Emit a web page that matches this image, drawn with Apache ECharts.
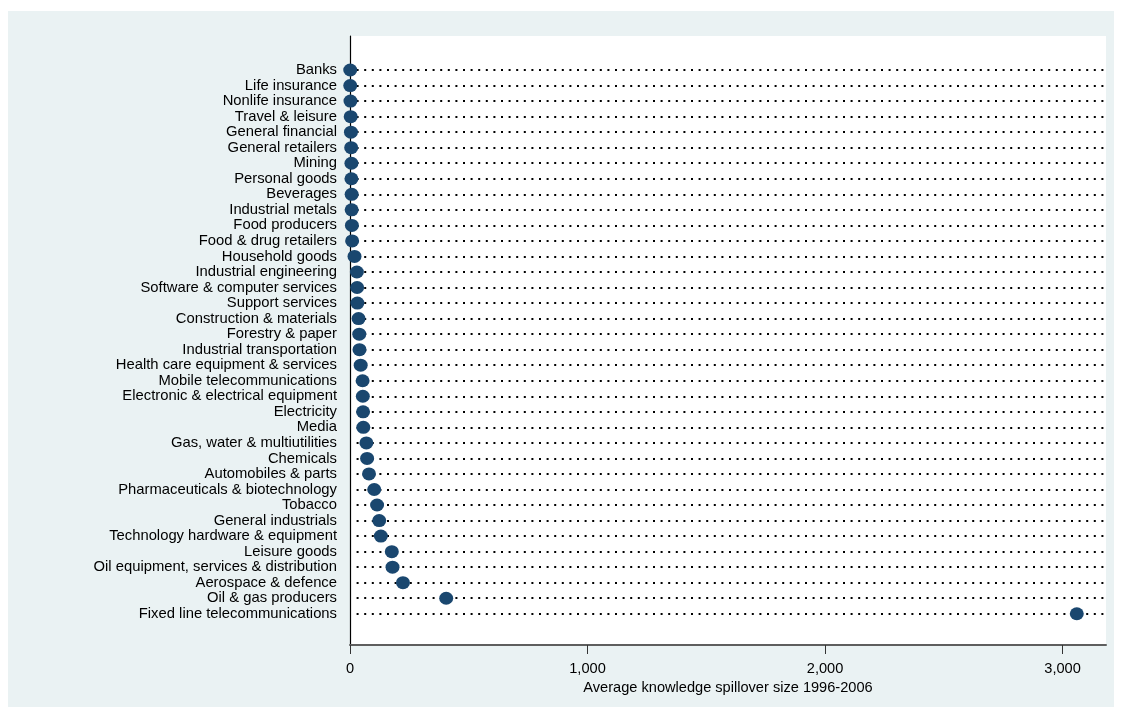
<!DOCTYPE html>
<html>
<head>
<meta charset="utf-8">
<script src="https://cdn.jsdelivr.net/npm/echarts@6/dist/echarts.min.js"></script>
<style>
  html, body { margin: 0; padding: 0; background: #ffffff; }
  #chart { width: 1122px; height: 718px; }
</style>
</head>
<body>
<div id="chart"></div>
<script>
// Industries, listed top to bottom
const industries = [
  'Banks', 'Life insurance', 'Nonlife insurance', 'Travel & leisure',
  'General financial', 'General retailers', 'Mining', 'Personal goods',
  'Beverages', 'Industrial metals', 'Food producers', 'Food & drug retailers',
  'Household goods', 'Industrial engineering', 'Software & computer services',
  'Support services', 'Construction & materials', 'Forestry & paper',
  'Industrial transportation', 'Health care equipment & services',
  'Mobile telecommunications', 'Electronic & electrical equipment',
  'Electricity', 'Media', 'Gas, water & multiutilities', 'Chemicals',
  'Automobiles & parts', 'Pharmaceuticals & biotechnology', 'Tobacco',
  'General industrials', 'Technology hardware & equipment', 'Leisure goods',
  'Oil equipment, services & distribution', 'Aerospace & defence',
  'Oil & gas producers', 'Fixed line telecommunications'
];

// Average knowledge spillover size 1996-2006, one value per industry
const spillover = [
  1, 1, 2, 3, 4, 5, 6, 6, 7, 7, 8, 9,
  19, 29, 30, 31, 36, 39, 40, 45, 53, 54, 55, 56,
  69, 72, 80, 102, 114, 123, 130, 176, 179, 223, 405, 3060
];

// Labelled positions on the horizontal axis
const xTicks = [0, 1000, 2000, 3000];
const xMax = 3183;
const xTitle = 'Average knowledge spillover size 1996-2006';

const rowIndex = industries.map((_, i) => i);
const points = spillover.map((v, i) => [v, i]);

const FONT = '"Liberation Sans", Arial, sans-serif';

const chart = echarts.init(document.getElementById('chart'), null, { renderer: 'canvas' });

chart.setOption({
  backgroundColor: '#ffffff',
  animation: false,
  graphic: [
    {
      type: 'rect',
      z: -10,
      silent: true,
      shape: { x: 8, y: 11, width: 1106, height: 696 },
      style: { fill: '#eaf2f3' }
    }
  ],
  grid: {
    left: 350,
    right: 16,
    top: 36,
    bottom: 73,
    show: true,
    backgroundColor: '#ffffff',
    borderWidth: 0
  },
  xAxis: {
    type: 'value',
    min: 0,
    max: xMax,
    name: xTitle,
    nameLocation: 'middle',
    nameGap: 31,
    nameTextStyle: { color: '#000000', fontFamily: FONT, fontSize: 14.6, verticalAlign: 'top' },
    axisLine: { show: true, onZero: false, lineStyle: { color: '#5e5e5e', width: 2 } },
    axisTick: {
      show: true, length: 9, inside: false, customValues: xTicks,
      lineStyle: { color: '#333333', width: 1 }
    },
    axisLabel: {
      customValues: xTicks,
      margin: 16,
      color: '#000000',
      fontFamily: FONT,
      fontSize: 14.6,
      formatter: v => Number(v).toLocaleString('en-US')
    },
    splitLine: { show: false }
  },
  yAxis: {
    type: 'value',
    inverse: true,
    min: -2.19,
    max: rowIndex.length - 1 + 2.01,
    axisLine: { show: true, onZero: false, lineStyle: { color: '#000000', width: 1.2 } },
    axisTick: { show: false, customValues: rowIndex },
    axisLabel: {
      customValues: rowIndex,
      margin: 13,
      color: '#000000',
      fontFamily: FONT,
      fontSize: 14.8,
      formatter: v => industries[Math.round(v)]
    },
    splitLine: {
      show: true,
      lineStyle: { color: '#000000', width: 2, type: [2, 5.6], dashOffset: 1 }
    }
  },
  series: [
    {
      type: 'scatter',
      data: points,
      symbol: 'circle',
      symbolSize: [14, 13],
      itemStyle: { color: '#1a476f', opacity: 1 },
      z: 5
    }
  ]
});
</script>
</body>
</html>
